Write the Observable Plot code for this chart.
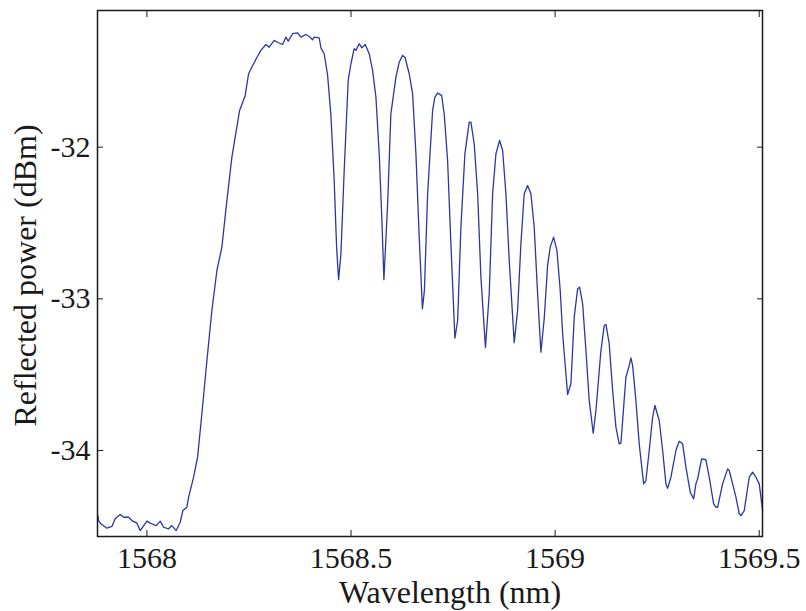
<!DOCTYPE html>
<html><head><meta charset="utf-8">
<script src="https://cdn.jsdelivr.net/npm/d3@7"></script>
<script src="https://cdn.jsdelivr.net/npm/@observablehq/plot@0.6"></script>
<style>body{margin:0;background:#fff}</style>
</head><body><div id="chart"></div>
<script>
const wavelength = [
1567.8800,1567.8817,1567.8873,1567.9020,1567.9143,1567.9223,1567.9346,1567.9429,1567.9552,1567.9633,
1567.9755,1567.9836,1568.0000,1568.0081,1568.0164,1568.0228,1568.0326,1568.0409,1568.0532,1568.0612,
1568.0718,1568.0816,1568.0882,1568.0980,1568.1022,1568.1144,1568.1242,1568.1347,1568.1470,1568.1592,
1568.1715,1568.1837,1568.1960,1568.2082,1568.2163,1568.2271,1568.2408,1568.2491,1568.2572,1568.2678,
1568.2793,1568.2915,1568.2996,1568.3119,1568.3209,1568.3324,1568.3405,1568.3462,1568.3569,1568.3692,
1568.3773,1568.3895,1568.3976,1568.4059,1568.4098,1568.4221,1568.4263,1568.4343,1568.4427,1568.4508,
1568.4588,1568.4647,1568.4696,1568.4753,1568.4833,1568.4931,1568.4998,1568.5078,1568.5120,1568.5201,
1568.5267,1568.5348,1568.5446,1568.5529,1568.5610,1568.5691,1568.5757,1568.5806,1568.5897,1568.5977,
1568.6100,1568.6181,1568.6264,1568.6321,1568.6426,1568.6509,1568.6590,1568.6671,1568.6749,1568.6798,
1568.6877,1568.6999,1568.7055,1568.7122,1568.7220,1568.7283,1568.7366,1568.7447,1568.7545,1568.7612,
1568.7692,1568.7790,1568.7896,1568.7937,1568.8018,1568.8102,1568.8182,1568.8293,1568.8386,1568.8469,
1568.8550,1568.8640,1568.8714,1568.8795,1568.8876,1568.8998,1568.9081,1568.9162,1568.9243,1568.9326,
1568.9407,1568.9488,1568.9571,1568.9652,1568.9733,1568.9816,1568.9880,1568.9963,1569.0044,1569.0125,
1569.0184,1569.0306,1569.0387,1569.0468,1569.0551,1569.0600,1569.0674,1569.0755,1569.0835,1569.0933,
1569.1000,1569.1122,1569.1203,1569.1245,1569.1325,1569.1409,1569.1489,1569.1570,1569.1612,1569.1734,
1569.1815,1569.1857,1569.1899,1569.1979,1569.2060,1569.2168,1569.2224,1569.2305,1569.2389,1569.2445,
1569.2550,1569.2634,1569.2714,1569.2756,1569.2837,1569.2959,1569.3040,1569.3124,1569.3204,1569.3310,
1569.3393,1569.3449,1569.3491,1569.3589,1569.3694,1569.3775,1569.3883,1569.3939,1569.3981,1569.4103,
1569.4226,1569.4265,1569.4348,1569.4429,1569.4510,1569.4552,1569.4633,1569.4755,1569.4838,1569.4919,
1569.5000,1569.5083
];
const power = [
-34.429,-34.462,-34.483,-34.512,-34.501,-34.450,-34.422,-34.440,-34.440,-34.462,
-34.479,-34.528,-34.466,-34.479,-34.488,-34.495,-34.466,-34.506,-34.516,-34.495,
-34.528,-34.473,-34.396,-34.374,-34.308,-34.176,-34.044,-33.758,-33.407,-33.077,
-32.813,-32.659,-32.351,-32.066,-31.934,-31.758,-31.659,-31.516,-31.472,-31.417,
-31.362,-31.323,-31.341,-31.296,-31.310,-31.323,-31.275,-31.301,-31.252,-31.246,
-31.275,-31.257,-31.270,-31.292,-31.275,-31.279,-31.345,-31.384,-31.527,-31.791,
-32.220,-32.659,-32.874,-32.703,-32.154,-31.560,-31.450,-31.351,-31.362,-31.318,
-31.345,-31.323,-31.384,-31.494,-31.670,-32.044,-32.483,-32.874,-32.373,-31.780,
-31.538,-31.440,-31.395,-31.407,-31.516,-31.648,-32.044,-32.593,-33.066,-32.945,
-32.307,-31.758,-31.670,-31.644,-31.659,-31.780,-32.088,-32.637,-33.260,-33.143,
-32.528,-32.044,-31.835,-31.835,-31.978,-32.307,-32.857,-33.321,-32.967,-32.307,
-32.044,-31.956,-32.022,-32.307,-32.747,-33.289,-33.077,-32.637,-32.307,-32.253,
-32.307,-32.528,-32.967,-33.352,-33.130,-32.780,-32.659,-32.593,-32.681,-32.945,
-33.230,-33.631,-33.560,-33.121,-32.934,-32.923,-33.033,-33.341,-33.670,-33.886,
-33.736,-33.341,-33.176,-33.169,-33.296,-33.604,-33.846,-33.956,-33.952,-33.517,
-33.440,-33.389,-33.440,-33.670,-33.956,-34.220,-34.198,-34.000,-33.780,-33.703,
-33.802,-34.000,-34.220,-34.249,-34.176,-34.000,-33.939,-33.956,-34.110,-34.275,
-34.319,-34.220,-34.187,-34.055,-34.061,-34.176,-34.352,-34.374,-34.374,-34.220,
-34.121,-34.132,-34.220,-34.308,-34.417,-34.429,-34.396,-34.176,-34.143,-34.176,
-34.220,-34.396
];
const xTicks = [1568, 1568.5, 1569, 1569.5];
const yTicks = [-34, -33, -32];
const xTitle = "Wavelength (nm)";
const yTitle = "Reflected power (dBm)";

const data = wavelength.map((w, i) => ({w, p: power[i]}));
const ink = "#1a1a1a";
const fmt = d => String(d);

const chart = Plot.plot({
  width: 806,
  height: 611,
  marginLeft: 97,
  marginRight: 44,
  marginTop: 10,
  marginBottom: 75,
  style: {fontFamily: "'Liberation Serif', 'Times New Roman', serif", fontSize: "30px", color: ink, background: "#fff"},
  x: {domain: [1567.879, 1569.508], label: null},
  y: {domain: [-34.567, -31.099], label: null},
  marks: [
    Plot.line(data, {x: "w", y: "p", stroke: "#2b37a3", strokeWidth: 1.3}),
    Plot.frame({stroke: ink, strokeWidth: 1.5}),
    Plot.axisX({anchor: "bottom", ticks: xTicks, tickSize: 0, tickPadding: 10, tickFormat: fmt, label: null, fontSize: 30}),
    Plot.axisY({anchor: "left", ticks: yTicks, tickSize: 0, tickPadding: 7, tickFormat: fmt, label: null, fontSize: 30}),
    Plot.axisX({anchor: "bottom", ticks: xTicks, tickSize: 6, dy: -6, fill: "none", label: null, stroke: ink}),
    Plot.axisX({anchor: "top", ticks: xTicks, tickSize: 6, dy: 6, fill: "none", label: null, stroke: ink}),
    Plot.axisY({anchor: "left", ticks: yTicks, tickSize: 6, dx: 6, fill: "none", label: null, stroke: ink}),
    Plot.axisY({anchor: "right", ticks: yTicks, tickSize: 6, dx: -6, fill: "none", label: null, stroke: ink}),
    Plot.text([xTitle], {text: d => d, frameAnchor: "bottom", textAnchor: "middle", lineAnchor: "middle", dx: 20, dy: 56, fontSize: 32, fill: ink}),
    Plot.text([yTitle], {text: d => d, frameAnchor: "left", textAnchor: "middle", lineAnchor: "middle", dx: -72, dy: 2, rotate: -90, fontSize: 32, fill: ink})
  ]
});
document.getElementById("chart").append(chart);
</script>
</body></html>
